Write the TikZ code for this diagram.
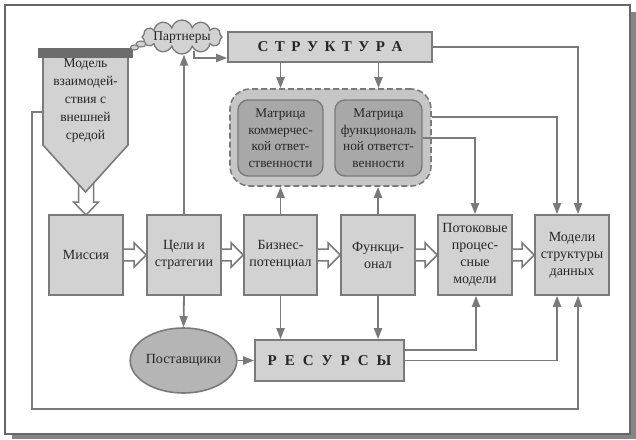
\documentclass[tikz,border=0pt]{standalone}
\usepackage{fontspec}
\setmainfont{Liberation Serif}
\usetikzlibrary{shapes.geometric,shapes.symbols,arrows.meta,calc}
\definecolor{boxfill}{HTML}{D2D2D2}
\definecolor{matfill}{HTML}{A8A8A8}
\definecolor{contfill}{HTML}{C6C6C6}
\definecolor{lc}{HTML}{7A7A7A}
\definecolor{framec}{HTML}{666666}
\definecolor{shadowc}{HTML}{858585}
\definecolor{darkbar}{HTML}{6C6C6C}
\definecolor{txt}{HTML}{262626}
\newcommand\fatH[2]{\draw[fatarr] ($(#1)+(0,5.8)$) -- ($(#2)+(-12,5.8)$) -- ($(#2)+(-12,12)$) -- (#2) -- ($(#2)+(-12,-12)$) -- ($(#2)+(-12,-5.8)$) -- ($(#1)+(0,-5.8)$);}
\begin{document}
\begin{tikzpicture}[x=1pt,y=-1pt,
  every node/.style={text=txt, font=\fontsize{14}{17}\selectfont},
  box/.style={draw=lc, line width=1.6pt, fill=boxfill, minimum width=74pt, minimum height=80pt, inner sep=1pt, align=center},
  matbox/.style={draw=lc, line width=1.4pt, fill=matfill, rounded corners=10pt, minimum width=85pt, minimum height=76pt, inner sep=0pt, align=center, font=\fontsize{13.3}{16.5}\selectfont},
  bigbox/.style={draw=lc, line width=1.6pt, fill=boxfill, inner sep=0pt, font=\fontsize{15}{17}\selectfont\bfseries},
  conn/.style={draw=lc, line width=1.8pt, -{Triangle[length=11pt,width=8pt]}},
  fatarr/.style={draw=lc, line width=1.5pt, fill=white, line join=miter}
]
\useasboundingbox (0,0) rectangle (636,439);
% frame with shadow
\fill[shadowc] (12,12) rectangle (636,439);
\draw[framec, line width=1.6pt, fill=white] (5,5) rectangle (630,434);

% hollow arrow below the model
\draw[fatarr] (78.5,178) -- (78.5,202) -- (73.5,202) -- (86,215) -- (98.5,202) -- (93.5,202) -- (93.5,178);

% model of interaction with environment
\draw[draw=lc, line width=1.6pt, fill=boxfill] (43,57) -- (128,57) -- (128,145) -- (85.5,192) -- (43,145) -- cycle;
\fill[darkbar] (38,48) rectangle (133,57.5);
\node[align=center, font=\fontsize{13.5}{18}\selectfont] (mdl) at (85.5,101) {Модель\\взаимодей-\\ствия с\\внешней\\средой};
\coordinate (fbl) at (43,112);

% row of main boxes
\node[box] (mis) at (86,255) {Миссия};
\node[box] (cel) at (184,255) {Цели и\\стратегии};
\node[box, minimum width=73pt] (biz) at (280.5,255) {Бизнес-\\потенциал};
\node[box] (fun) at (378,255) {Функци-\\онал};
\node[box] (pot) at (475,255) {Потоковые\\процес-\\сные\\модели};
\node[box] (mod) at (572,255) {Модели\\структуры\\данных};

% hollow arrows
\fatH{mis.east}{cel.west}
\fatH{cel.east}{biz.west}
\fatH{biz.east}{fun.west}
\fatH{fun.east}{pot.west}
\fatH{pot.east}{mod.west}

% structure
\node[bigbox, minimum width=204pt, minimum height=30pt] (str) at (330,47) {С\hspace{6.5pt}Т\hspace{6.5pt}Р\hspace{6.5pt}У\hspace{6.5pt}К\hspace{6.5pt}Т\hspace{6.5pt}У\hspace{6.5pt}Р\hspace{6.5pt}А};

% container with matrices
\node[draw=lc, line width=1.6pt, dash pattern=on 6pt off 3pt, fill=contfill, rounded corners=20pt, minimum width=201pt, minimum height=97pt] (cont) at (330.5,137.5) {};
\node[matbox] (m1) at (280.5,138) {Матрица\\коммерчес-\\кой ответ-\\ственности};
\node[matbox, minimum width=87pt] (m2) at (378.5,138) {Матрица\\функциональ\\ной ответст-\\венности};

% partners cloud
\node[cloud, cloud puffs=12, cloud ignores aspect, draw=lc, line width=1.3pt, fill=boxfill, minimum width=80pt, minimum height=34pt, inner sep=0pt] (cloud) at (182,37) {};
\node[font=\fontsize{13.5}{16}\selectfont] (ptxt) at (182,38) {Партнеры};
\draw[draw=lc, line width=1.1pt, fill=boxfill] (141,44) ellipse [x radius=5, y radius=3];
\draw[draw=lc, line width=1.1pt, fill=boxfill] (134.5,47.5) ellipse [x radius=4, y radius=2.5];

% resources and suppliers
\node[bigbox, minimum width=149pt, minimum height=41pt] (res) at (329.5,360.5) {Р\hspace{8pt}Е\hspace{8pt}С\hspace{8pt}У\hspace{8pt}Р\hspace{8pt}С\hspace{8pt}Ы};
\node[ellipse, draw=lc, line width=1.6pt, fill=matfill!70!boxfill, minimum width=83pt, minimum height=65pt, inner sep=0pt] (pos) at (183.5,360.5) {Поставщики};

% connectors
\draw[conn] (cel.north) -- (cel.north |- cloud.south);
\draw[conn] ($(cloud.south)+(12,-4)$) |- ([yshift=-11pt]str.west);
\draw[conn] (str.south -| m1.north) -- (cont.north -| m1.north);
\draw[conn] (str.south -| m2.north) -- (cont.north -| m2.north);
\draw[conn] (str.east) -| ([xshift=6pt]mod.north);
\draw[conn] ([yshift=20.5pt]cont.east) -| ([xshift=-15pt]mod.north);
\draw[conn] (m2.east) -| (pot.north);
\draw[conn] (biz.north) -- (biz.north |- cont.south);
\draw[conn] (fun.north) -- (fun.north |- cont.south);
\draw[conn] (cel.south) -- (pos.north);
\draw[conn] (biz.south) -- (biz.south |- res.north);
\draw[conn] (fun.south) -- (fun.south |- res.north);
\draw[conn] (pos.east) -- (res.west);
\draw[conn] ([yshift=10.5pt]res.east) -| ([xshift=1pt]pot.south);
\draw[conn] (res.east) -| ([xshift=-15pt]mod.south);
\draw[conn] (fbl) -| (32,409) -| ([xshift=6pt]mod.south);
\end{tikzpicture}
\end{document}
